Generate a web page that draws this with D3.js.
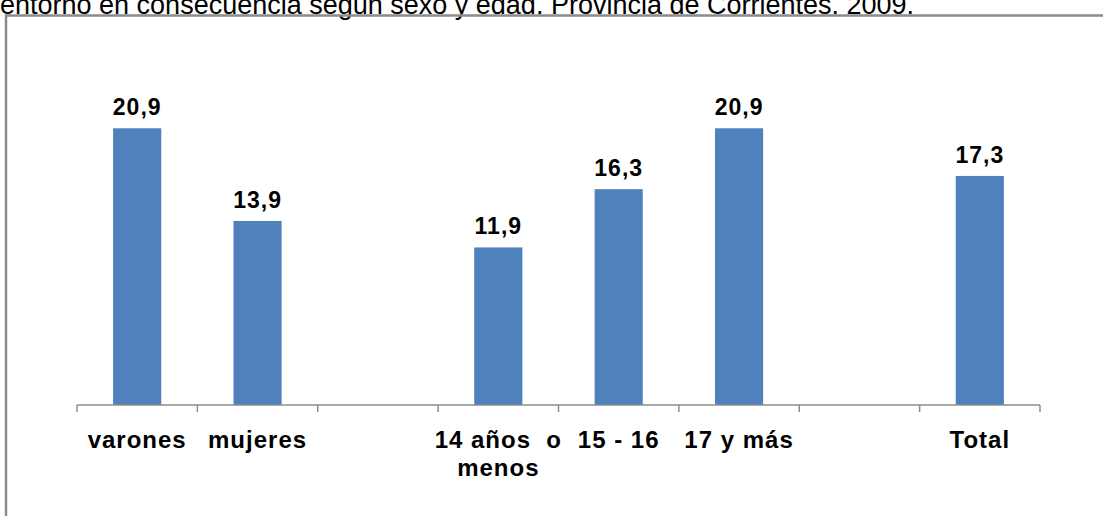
<!DOCTYPE html>
<html>
<head>
<meta charset="utf-8">
<script src="https://cdn.jsdelivr.net/npm/d3@7"></script>
<style>
  body { margin: 0; background: #fff; }
  svg text { font-family: Arial, "Liberation Sans", sans-serif; }
</style>
</head>
<body>
<script>
// categories (blank slots are the gaps in the original chart)
const categories = ['varones', 'mujeres', 'gap1', '14 años  o\nmenos', '15 - 16', '17 y más', 'gap2', 'Total'];
const values = [20.9, 13.9, null, 11.9, 16.3, 20.9, null, 17.3];
const valueLabels = ['20,9', '13,9', '', '11,9', '16,3', '20,9', '', '17,3'];
const titleText = 'entorno en consecuencia según sexo y edad. Provincia de Corrientes. 2009.';

const width = 1103;
const height = 516;

const svg = d3.select('body').append('svg')
  .attr('width', width)
  .attr('height', height);

// title, cut off at the top like the source picture
svg.append('text')
  .attr('x', 0)
  .attr('y', 13.5)
  .style('font-size', '27px')
  .attr('fill', '#000')
  .text(titleText);

// chart frame
svg.append('rect')
  .attr('x', 6)
  .attr('y', 15.5)
  .attr('width', 1200)
  .attr('height', 600)
  .attr('fill', 'none')
  .attr('stroke', '#8c8c8c')
  .attr('stroke-width', 2.5);

const x = d3.scaleBand()
  .domain(categories)
  .range([77, 1040])
  .paddingInner(0.6)
  .paddingOuter(0.3);

const y = d3.scaleLinear()
  .domain([0, 25])
  .range([405, 74]);

const data = categories.map((c, i) => ({ cat: c, value: values[i], label: valueLabels[i] }));

// bars
svg.selectAll('rect.bar')
  .data(data.filter(d => d.value != null))
  .enter()
  .append('rect')
  .attr('class', 'bar')
  .attr('x', d => x(d.cat))
  .attr('y', d => y(d.value))
  .attr('width', x.bandwidth())
  .attr('height', d => y(0) - y(d.value))
  .attr('fill', '#4f81bd');

// value labels
svg.selectAll('text.val')
  .data(data.filter(d => d.value != null))
  .enter()
  .append('text')
  .attr('class', 'val')
  .attr('x', d => x(d.cat) + x.bandwidth() / 2)
  .attr('y', d => y(d.value) - 13)
  .attr('text-anchor', 'middle')
  .style('font-size', '23px')
  .style('font-weight', 'bold')
  .style('letter-spacing', '1px')
  .text(d => d.label);

// x axis line with ticks between categories
const x0 = 77;
const edges = d3.range(categories.length + 1).map(i => x0 + i * (1040 - x0) / categories.length);

svg.append('line')
  .attr('x1', x0)
  .attr('x2', 1040)
  .attr('y1', y(0))
  .attr('y2', y(0))
  .attr('stroke', '#8c8c8c')
  .attr('stroke-width', 1.5);

svg.selectAll('line.tick')
  .data(edges)
  .enter()
  .append('line')
  .attr('class', 'tick')
  .attr('x1', d => d)
  .attr('x2', d => d)
  .attr('y1', y(0))
  .attr('y2', y(0) + 7)
  .attr('stroke', '#8c8c8c')
  .attr('stroke-width', 1.5);

// category labels
const labels = svg.selectAll('text.cat')
  .data(data.filter(d => !d.cat.startsWith('gap')))
  .enter()
  .append('text')
  .attr('class', 'cat')
  .attr('text-anchor', 'middle')
  .style('font-size', '24px')
  .style('font-weight', 'bold')
  .style('letter-spacing', '1px')
  .style('white-space', 'pre')
  .attr('transform', d => `translate(${x(d.cat) + x.bandwidth() / 2},448)`);

labels.selectAll('tspan')
  .data(d => d.cat.split('\n'))
  .enter()
  .append('tspan')
  .attr('x', 0)
  .attr('y', (d, i) => i * 28)
  .text(d => d);
</script>
</body>
</html>
